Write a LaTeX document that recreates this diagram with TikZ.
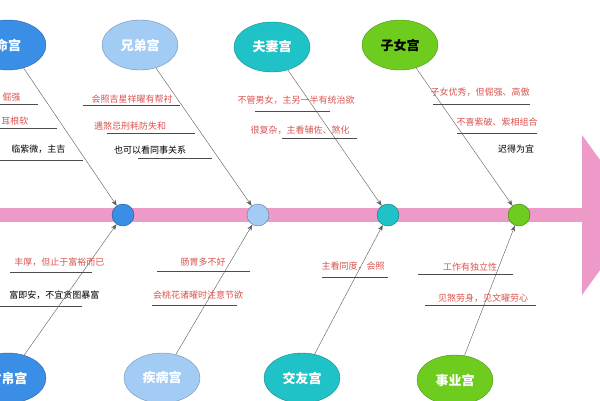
\documentclass[tikz,border=0pt]{standalone}
\usepackage{fontspec}
\setmainfont{Noto Sans CJK SC}
\usetikzlibrary{arrows.meta,shapes.geometric}
\definecolor{spine}{HTML}{EE9AC9}
\definecolor{cblue}{HTML}{3A8EE6}
\definecolor{clight}{HTML}{A3CCF5}
\definecolor{cteal}{HTML}{1FC2C6}
\definecolor{cgreen}{HTML}{6ECC1E}
\definecolor{txtred}{HTML}{D9534F}
\tikzset{
    palace/.style={ellipse, draw=#1!70!black, fill=#1, minimum width=76pt, minimum height=50pt, inner sep=0pt, font=\fontsize{13}{13}\selectfont\bfseries},
    joint/.style={circle, draw=#1!60!black, fill=#1, minimum size=22pt, inner sep=0pt},
    bone/.style={draw=black!65, thin, -{Stealth[length=6pt]}},
    note/.style={font=\fontsize{9}{9}\selectfont, text=txtred},
    bnote/.style={font=\fontsize{9}{9}\selectfont, text=black},
    uline/.style={draw=black!70, thin}
}
\begin{document}
\begin{tikzpicture}[x=1pt, y=-1pt]
    \useasboundingbox (0,0) rectangle (600,400);
    \clip (0,0) rectangle (600,400);
    % spine
    \fill[spine] (0,208) rectangle (584,222);
    \fill[spine] (582,135) -- (640,215) -- (582,295) -- cycle;
    % joints
    \node[joint=cblue] (j1) at (123,215) {};
    \node[joint=clight] (j2) at (258,215) {};
    \node[joint=cteal] (j3) at (388,215) {};
    \node[joint=cgreen] (j4) at (519,215) {};
    % top palaces
    \node[palace=cblue, text=white] (ming) at (8,45) {命宫};
    \node[palace=clight, text=white] (xiongdi) at (140,45) {兄弟宫};
    \node[palace=cteal, text=white] (fuqi) at (272,47) {夫妻宫};
    \node[palace=cgreen, text=black] (zinv) at (400,45) {子女宫};
    % bottom palaces
    \node[palace=cblue, text=white] (caibo) at (8,378) {财帛宫};
    \node[palace=clight, text=white] (jibing) at (162,378) {疾病宫};
    \node[palace=cteal, text=white] (jiaoyou) at (302,378) {交友宫};
    \node[palace=cgreen, text=white] (shiye) at (455,380) {事业宫};
    % bones
    \draw[bone] (ming) -- (j1);
    \draw[bone] (xiongdi) -- (j2);
    \draw[bone] (fuqi) -- (j3);
    \draw[bone] (zinv) -- (j4);
    \draw[bone] (caibo) -- (j1);
    \draw[bone] (jibing) -- (j2);
    \draw[bone] (jiaoyou) -- (j3);
    \draw[bone] (shiye) -- (j4);
    % notes: 命宫
    \node[note, anchor=east] (m1) at (24,97) {倔强};
    \draw[uline] (0,104) -- (38,104);
    \node[note, anchor=east] (m2) at (32,121) {耳根软};
    \draw[uline] (0,128) -- (57,128);
    \node[bnote, anchor=east] (m3) at (69,149) {临紫微，主吉};
    \draw[uline] (0,160) -- (83,160);
    % notes: 兄弟宫
    \node[note] (x1) at (132,99) {会照吉星祥曜有帮衬};
    \draw[uline] (83,105) -- (180,105);
    \node[note] (x2) at (130,126) {遇煞忌刑耗防失和};
    \draw[uline] (107,133) -- (195,133);
    \node[bnote] (x3) at (150,150) {也可以看同事关系};
    \draw[uline] (138,158) -- (212,158);
    % notes: 夫妻宫
    \node[note] (f1) at (296,100) {不管男女，主另一半有统治欲};
    \draw[uline] (255,111) -- (330,111);
    \node[note] (f2) at (300,130) {很复杂，主看辅佐、煞化};
    \draw[uline] (282,138) -- (357,138);
    % notes: 子女宫
    \node[note] (z1) at (480,92) {子女优秀，但倔强、高傲};
    \draw[uline] (433,104) -- (530,104);
    \node[note] (z2) at (497,122) {不喜紫破、紫相组合};
    \draw[uline] (457,133) -- (537,133);
    \node[bnote] (z3) at (516,149) {迟得为宜};
    % notes: 财帛宫
    \node[note, anchor=east] (c1) at (108,262) {丰厚，但止于富裕而已};
    \draw[uline] (10,272) -- (92,272);
    \node[bnote, anchor=east] (c2) at (103,295) {富即安，不宜贪图暴富};
    \draw[uline] (0,306) -- (82,306);
    % notes: 疾病宫
    \node[note] (b1) at (203,262) {肠胃多不好};
    \draw[uline] (157,271) -- (250,271);
    \node[note] (b2) at (198,295) {会桃花诸曜时注意节欲};
    \draw[uline] (152,305) -- (237,305);
    % notes: 交友宫
    \node[note] (y1) at (353,266) {主看同度，会照};
    \draw[uline] (322,277) -- (388,277);
    % notes: 事业宫
    \node[note] (s1) at (470,267) {工作有独立性};
    \draw[uline] (418,274) -- (513,274);
    \node[note] (s2) at (483,298) {见煞劳身，见文曜劳心};
    \draw[uline] (425,305) -- (536,305);
\end{tikzpicture}
\end{document}
